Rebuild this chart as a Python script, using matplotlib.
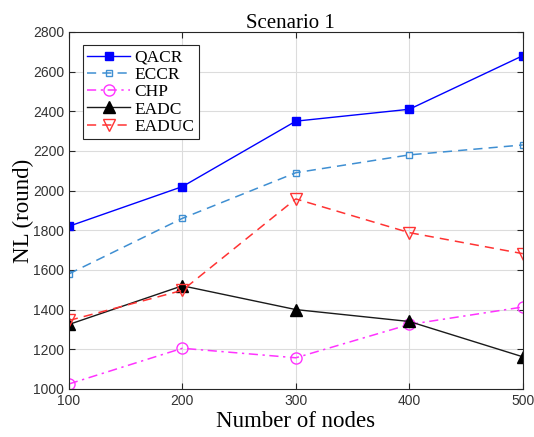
import matplotlib
matplotlib.use("Agg")
import matplotlib.pyplot as plt

nodes = [100, 200, 300, 400, 500]
qacr = [1820, 2020, 2350, 2410, 2680]
eccr = [1580, 1860, 2090, 2180, 2230]
chp = [1025, 1205, 1157, 1325, 1413]
eadc = [1325, 1520, 1400, 1340, 1162]
eaduc = [1345, 1497, 1958, 1788, 1682]

y_ticks = [1000, 1200, 1400, 1600, 1800, 2000, 2200, 2400, 2600, 2800]
x_ticks = [100, 200, 300, 400, 500]

serif = "Liberation Serif"
sans = "Liberation Sans"
axis_col = "#262626"

fig = plt.figure(figsize=(5.34, 4.37), dpi=100)
ax = fig.add_axes([0.129, 0.110, 0.850, 0.817])

ax.plot(nodes, qacr, color="#0000ff", ls="-", lw=1.0, marker="s", ms=6,
        mfc="#0000ff", mec="#0000ff", label="QACR")
ax.plot(nodes, eccr, color="#3f8fd2", ls=(0, (6, 4)), lw=1.1, marker="s", ms=5,
        mfc="none", mec="#3f8fd2", label="ECCR")
ax.plot(nodes, chp, color="#ff33ff", ls=(0, (6, 3, 1.5, 3)), lw=1.1, marker="o", ms=8,
        mfc="none", mec="#ff33ff", label="CHP")
ax.plot(nodes, eadc, color="#1a1a1a", ls="-", lw=1.0, marker="^", ms=8,
        mfc="black", mec="black", label="EADC")
ax.plot(nodes, eaduc, color="#ff3333", ls=(0, (6, 4)), lw=1.1, marker="v", ms=8,
        mfc="none", mec="#ff3333", label="EADUC")

ax.set_xlim(100, 500)
ax.set_ylim(1000, 2800)
ax.set_xticks(x_ticks)
ax.set_yticks(y_ticks)
ax.grid(True, color="#dcdcdc", lw=0.8)
ax.set_axisbelow(True)
ax.tick_params(direction="in", top=True, right=True, length=4, width=0.8,
               colors=axis_col, labelsize=10)
for lab in ax.get_xticklabels() + ax.get_yticklabels():
    lab.set_fontfamily(sans)
    lab.set_color("#333333")
for sp in ax.spines.values():
    sp.set_color(axis_col)
    sp.set_linewidth(0.8)

ax.set_title("Scenario 1", fontfamily=serif, fontsize=15, pad=3, x=0.487)
ax.set_xlabel("Number of nodes", fontfamily=serif, fontsize=16.5, labelpad=2)
ax.set_ylabel("NL (round)", fontfamily=serif, fontsize=16.5, labelpad=-1)

leg = ax.legend(loc="upper left", bbox_to_anchor=(0.03, 0.962),
                prop={"family": serif, "size": 12.5},
                frameon=True, fancybox=False, edgecolor=axis_col, framealpha=1,
                handlelength=2.5, handletextpad=0.25, labelspacing=0.06,
                borderpad=0.25, borderaxespad=0.0)
leg.get_frame().set_linewidth(0.8)

fig.savefig("out.png", dpi=100)
